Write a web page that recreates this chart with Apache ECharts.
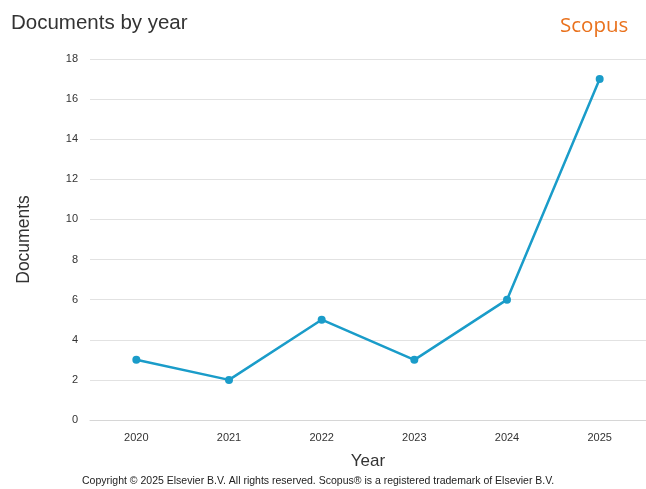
<!DOCTYPE html>
<html>
<head>
<meta charset="utf-8">
<style>
  html, body { margin: 0; padding: 0; background: #fff; }
  #chart { width: 646px; height: 489px; }
</style>
<script src="https://cdn.jsdelivr.net/npm/echarts@6/dist/echarts.min.js"></script>
</head>
<body>
<div id="chart"></div>
<script>
// Documents per publication year
const years = ['2020', '2021', '2022', '2023', '2024', '2025'];
const documents = [3, 2, 5, 3, 6, 17];

const chart = echarts.init(document.getElementById('chart'), null, { renderer: 'canvas' });

chart.setOption({
  backgroundColor: '#ffffff',
  animation: false,
  title: [
    {
      text: 'Documents by year',
      left: 6, top: 8,
      textStyle: { fontFamily: 'Liberation Sans, Arial', fontSize: 20.5, fontWeight: 'normal', color: '#333333' }
    },
    {
      text: 'Scopus',
      left: 555, top: 11,
      textStyle: { fontFamily: 'Open Sans, sans-serif', fontSize: 20.5, fontWeight: 'normal', color: '#e9711c' }
    }
  ],
  graphic: [
    {
      type: 'text',
      left: 82,
      top: 476,
      style: {
        text: 'Copyright \u00a9 2025 Elsevier B.V. All rights reserved. Scopus\u00ae is a registered trademark of Elsevier B.V.',
        font: '10.5px Liberation Sans, Arial',
        fill: '#222222'
      }
    }
  ],
  grid: { left: 90, right: -4, top: 59, bottom: 69 },
  xAxis: {
    type: 'category',
    data: years,
    boundaryGap: true,
    name: 'Year',
    nameLocation: 'middle',
    nameGap: 33,
    nameTextStyle: { fontFamily: 'Liberation Sans, Arial', fontSize: 17, color: '#333333' },
    axisLine: { show: true, lineStyle: { color: '#d6d6d6' } },
    axisTick: { show: false },
    axisLabel: { fontFamily: 'Liberation Sans, Arial', fontSize: 11, color: '#333333', margin: 12 }
  },
  yAxis: {
    type: 'value',
    min: 0, max: 18, interval: 2,
    name: 'Documents',
    nameLocation: 'middle',
    nameGap: 57,
    nameRotate: 90,
    nameTextStyle: { fontFamily: 'Liberation Sans, Arial', fontSize: 17.5, color: '#333333' },
    axisLine: { show: false },
    axisTick: { show: false },
    axisLabel: { fontFamily: 'Liberation Sans, Arial', fontSize: 11, color: '#333333', margin: 12 },
    splitLine: { lineStyle: { color: '#e2e2e2', width: 1 } }
  },
  series: [
    {
      type: 'line',
      data: documents,
      symbol: 'circle',
      symbolSize: 8,
      itemStyle: { color: '#1a9cc9' },
      lineStyle: { color: '#1a9cc9', width: 2.5 }
    }
  ]
});
</script>
</body>
</html>
